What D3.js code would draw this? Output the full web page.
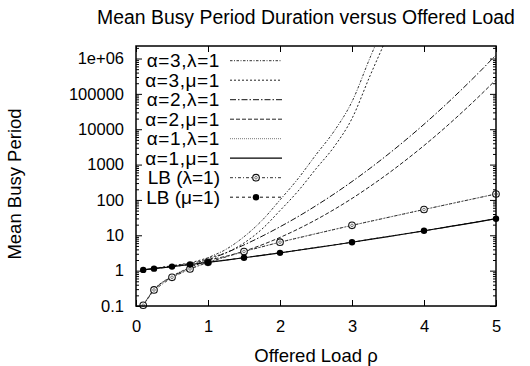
<!DOCTYPE html>
<html><head><meta charset="utf-8">
<script src="https://cdn.jsdelivr.net/npm/d3@7/dist/d3.min.js"></script>
<style>
body{margin:0;background:#fff}
text{font-family:"Liberation Sans",Arial,Helvetica,sans-serif;fill:#000}
</style>
</head><body>
<svg id="c" width="530" height="366"></svg>
<script>
// ---------- data ----------
const rhoGrid = [0.1,0.25,0.5,0.75,1,1.25,1.5,1.75,2,2.25,2.5,2.75,3,3.25,3.5,3.75,4,4.25,4.5,4.75,5];
const a3Lambda = [0.106,0.29,0.69,1.25,2.3,4.0,9.1,26.3,100,398,1900,8700,60300,1.05e6,1.6e7,null,null,null,null,null,null];
const a3Mu     = [1.06,1.16,1.38,1.67,2.3,3.2,6.07,15.0,50,177,760,3160,20100,3.23e5,4.57e6,null,null,null,null,null,null];
const a2Lambda = [0.105,0.287,0.67,1.2,2.0,3.19,5.34,9.4,17.4,33.7,68.8,147,331,782,1940,5050,13800,39600,119500,378000,1.26e6];
const a2Mu     = [1.05,1.15,1.34,1.6,2.0,2.55,3.56,5.37,8.7,15.0,27.5,53.5,110,241,554,1350,3450,9300,26600,79600,252000];
const a1Lambda = [0.105,0.284,0.649,1.117,1.718,2.49,3.48,4.75,6.39,8.49,11.18,14.64,19.09,24.79,32.12,41.52,53.6,69.1,89.0,114.6,147.4];
const a1Mu     = [1.05,1.14,1.30,1.49,1.72,1.99,2.32,2.71,3.19,3.77,4.47,5.32,6.36,7.63,9.18,11.07,13.4,16.3,19.8,24.1,29.5];
const lbRho    = [0.1,0.25,0.5,0.75,1,1.5,2,3,4,5];
const lbLambda = [0.105,0.284,0.649,1.117,1.718,3.48,6.39,19.1,53.6,147.4];
const lbMu     = [1.05,1.14,1.30,1.49,1.72,2.32,3.19,6.36,13.4,29.5];
const seriesNames = ["α=3,λ=1","α=3,μ=1","α=2,λ=1","α=2,μ=1","α=1,λ=1","α=1,μ=1","LB (λ=1)","LB (μ=1)"];
const xTicks = [0,1,2,3,4,5];
const xTickLabels = ["0","1","2","3","4","5"];
const yTicks = [0.1,1,10,100,1000,10000,100000,1e6];
const yTickLabels = ["0.1","1","10","100","1000","10000","100000","1e+06"];
const title = "Mean Busy Period Duration versus Offered Load";
const xLabel = "Offered Load ρ";
const yLabel = "Mean Busy Period";

// ---------- styles / layout ----------
const styles = [
  {dash:"2.5,1.5,1,1.5", color:"#333", w:1},
  {dash:"2,2",           color:"#222", w:1},
  {dash:"6,2,1.5,2",     color:"#111", w:1},
  {dash:"4,2",           color:"#222", w:1},
  {dash:"1,1",           color:"#777", w:1},
  {dash:null,            color:"#000", w:1.2},
  {dash:"3,2,1,2",       color:"#333", w:1, marker:"open"},
  {dash:"3,3",           color:"#111", w:1, marker:"filled"}
];
const L=136, R=496, T=46, B=306;
const svg = d3.select("#c");
const x = d3.scaleLinear().domain([0,5]).range([L,R]);
const y = d3.scaleLog().domain([0.1,2.26e6]).range([B,T]);

svg.append("defs").append("clipPath").attr("id","clip")
  .append("rect").attr("x",L).attr("y",T).attr("width",R-L).attr("height",B-T);

// title & labels
svg.append("text").attr("x",306).attr("y",24).attr("text-anchor","middle")
  .style("font-size","19.4px").text(title);
svg.append("text").attr("x",(L+R)/2).attr("y",362).attr("text-anchor","middle")
  .style("font-size","18.5px").text(xLabel);
svg.append("text").attr("transform","translate(21,184) rotate(-90)").attr("text-anchor","middle")
  .style("font-size","18.5px").text(yLabel);

// minor log ticks
const minor = [];
for (let e=-1;e<=6;e++) for (let m=2;m<=9;m++){ const v=m*Math.pow(10,e); if (v<=2.26e6) minor.push(v); }

function styleAxis(g){ g.select(".domain").remove(); g.selectAll("line").attr("stroke","#000").attr("stroke-width",1); g.selectAll("text").style("font-size","16.5px").style("font-family",'"Liberation Sans",Arial,sans-serif'); }

svg.append("g").attr("transform",`translate(${L},0)`)
  .call(d3.axisLeft(y).tickValues(yTicks).tickSize(-6).tickPadding(12).tickFormat((d,i)=>yTickLabels[i]))
  .call(styleAxis);
svg.append("g").attr("transform",`translate(${L},0)`)
  .call(d3.axisLeft(y).tickValues(minor).tickSize(-3).tickFormat("")).call(styleAxis);
svg.append("g").attr("transform",`translate(${R},0)`)
  .call(d3.axisRight(y).tickValues(yTicks).tickSize(-6).tickFormat("")).call(styleAxis);
svg.append("g").attr("transform",`translate(${R},0)`)
  .call(d3.axisRight(y).tickValues(minor).tickSize(-3).tickFormat("")).call(styleAxis);
svg.append("g").attr("transform",`translate(0,${B})`)
  .call(d3.axisBottom(x).tickValues(xTicks).tickSize(-6).tickPadding(14).tickFormat((d,i)=>xTickLabels[i]))
  .call(styleAxis);
svg.append("g").attr("transform",`translate(0,${T})`)
  .call(d3.axisTop(x).tickValues(xTicks).tickSize(-6).tickFormat("")).call(styleAxis);

// series
const curveSeries = [a3Lambda,a3Mu,a2Lambda,a2Mu,a1Lambda,a1Mu];
const line = d3.line().defined(d=>d[1]!=null).x(d=>x(d[0])).y(d=>y(d[1])).curve(d3.curveMonotoneX);
const plot = svg.append("g").attr("clip-path","url(#clip)");
curveSeries.forEach((s,i)=>{
  const st=styles[i];
  plot.append("path").datum(rhoGrid.map((r,j)=>[r,s[j]]))
    .attr("d",line).attr("fill","none").attr("stroke",st.color).attr("stroke-width",st.w)
    .attr("stroke-dasharray",st.dash);
});
[lbLambda,lbMu].forEach((s,k)=>{
  const st=styles[6+k];
  const pts = lbRho.map((r,j)=>[r,s[j]]);
  plot.append("path").datum(pts).attr("d",d3.line().x(d=>x(d[0])).y(d=>y(d[1])))
    .attr("fill","none").attr("stroke",st.color).attr("stroke-width",st.w).attr("stroke-dasharray",st.dash);
});
function marker(g,cx,cy,type){
  if(type==="open"){
    g.append("circle").attr("cx",cx).attr("cy",cy).attr("r",3.3).attr("fill","#fff").attr("stroke","#111").attr("stroke-width",1.1);
    g.append("circle").attr("cx",cx).attr("cy",cy).attr("r",1.3).attr("fill","none").attr("stroke","#555").attr("stroke-width",0.8);
  } else {
    g.append("circle").attr("cx",cx).attr("cy",cy).attr("r",3.2).attr("fill","#000");
  }
}
const mg = svg.append("g");
[lbLambda,lbMu].forEach((s,k)=>{
  lbRho.forEach((r,j)=>marker(mg,x(r),y(s[j]),styles[6+k].marker));
});

// legend
const lg = svg.append("g");
seriesNames.forEach((name,i)=>{
  const cy = 60.7 + i*19.5;
  lg.append("text").attr("x",220).attr("y",cy+6.5).attr("text-anchor","end")
    .style("font-size","19px").style("letter-spacing", name.startsWith("α") ? "0.6px" : "0px").text(name);
  const st=styles[i];
  lg.append("line").attr("x1",230).attr("x2",282).attr("y1",cy).attr("y2",cy)
    .attr("stroke",st.color).attr("stroke-width",st.w).attr("stroke-dasharray",st.dash);
  if(st.marker) marker(lg,256,cy,st.marker);
});

// frame
svg.append("rect").attr("x",L).attr("y",T).attr("width",R-L).attr("height",B-T)
  .attr("fill","none").attr("stroke","#000").attr("stroke-width",1.5);
</script>
</body></html>
